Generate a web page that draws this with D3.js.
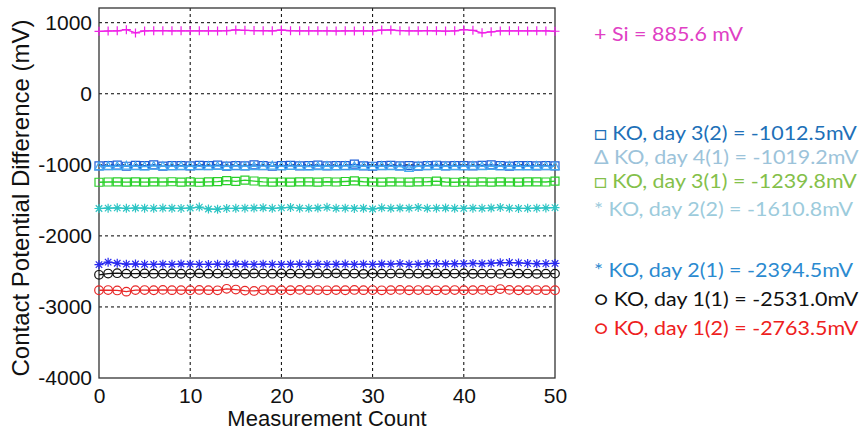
<!DOCTYPE html>
<html><head><meta charset="utf-8">
<script src="https://cdn.jsdelivr.net/npm/d3@7"></script>
<style>body{margin:0;background:#fff}svg{display:block}</style>
</head><body><svg id="c" width="866" height="430"></svg>
<script>
const counts = d3.range(0, 51);
const xTicks = [0, 10, 20, 30, 40, 50];
const yTicks = [1000, 0, -1000, -2000, -3000, -4000];

const si = [878,883,886,902,856,884,888,887,886,886,885,
 886,885,884,887,898,893,889,887,886,897,
 887,886,886,885,884,883,885,884,886,883,
 896,899,888,884,885,887,886,882,886,902,
 893,858,872,884,885,886,884,885,884,880];
const day3b = [-1015,-1010,-1005,-1020,-1008,-1012,-1000,-1018,-1010,-1012,-1015,
 -1008,-1012,-1005,-1018,-1010,-1014,-1002,-1010,-1020,-1012,
 -1008,-1015,-1012,-1004,-1016,-1010,-1012,-990,-1015,-1020,
 -1010,-1008,-1014,-1012,-1018,-1010,-1006,-1015,-1012,-1010,
 -1014,-1008,-1000,-1012,-1018,-1010,-1012,-1016,-1010,-1014];
const day4a = [-1025,-1018,-1022,-1015,-1020,-1024,-1016,-1020,-1022,-1018,-1020,
 -1023,-1017,-1019,-1021,-1016,-1020,-1022,-1018,-1015,-1021,
 -1019,-1017,-1024,-1020,-1018,-1022,-1016,-1020,-1019,-1023,
 -1018,-1021,-1025,-1045,-1020,-1017,-1019,-1022,-1018,-1020,
 -1016,-1021,-1019,-1023,-1018,-1020,-1022,-1017,-1019,-1021];
const day3a = [-1245,-1242,-1240,-1243,-1241,-1244,-1240,-1242,-1238,-1243,-1241,
 -1245,-1240,-1236,-1222,-1232,-1215,-1228,-1240,-1243,-1242,
 -1244,-1240,-1241,-1243,-1238,-1242,-1235,-1226,-1238,-1242,
 -1244,-1240,-1242,-1243,-1241,-1238,-1230,-1242,-1245,-1240,
 -1243,-1241,-1244,-1240,-1242,-1243,-1241,-1240,-1242,-1230];
const day2b = [-1615,-1610,-1605,-1612,-1608,-1610,-1612,-1609,-1611,-1613,-1608,
 -1595,-1622,-1625,-1614,-1612,-1610,-1608,-1604,-1612,-1606,
 -1600,-1610,-1612,-1608,-1598,-1612,-1610,-1614,-1611,-1622,
 -1605,-1612,-1608,-1610,-1600,-1612,-1610,-1608,-1612,-1614,
 -1610,-1612,-1608,-1600,-1610,-1614,-1612,-1610,-1606,-1602];
const day2a = [-2405,-2370,-2385,-2398,-2396,-2400,-2402,-2398,-2400,-2396,-2398,
 -2400,-2402,-2398,-2400,-2396,-2399,-2401,-2398,-2400,-2402,
 -2399,-2397,-2400,-2398,-2401,-2399,-2397,-2402,-2398,-2400,
 -2396,-2398,-2390,-2400,-2398,-2392,-2390,-2395,-2392,-2390,
 -2388,-2392,-2385,-2378,-2375,-2380,-2388,-2392,-2390,-2388];
const day1a = [-2548,-2530,-2525,-2532,-2530,-2528,-2532,-2531,-2529,-2533,-2530,
 -2527,-2532,-2530,-2528,-2531,-2533,-2529,-2530,-2532,-2528,
 -2531,-2530,-2533,-2529,-2531,-2527,-2532,-2530,-2534,-2529,
 -2531,-2530,-2528,-2532,-2530,-2533,-2529,-2531,-2530,-2528,
 -2533,-2531,-2530,-2535,-2529,-2531,-2530,-2534,-2532,-2531];
const day1b = [-2765,-2762,-2768,-2785,-2763,-2762,-2765,-2760,-2764,-2763,-2765,
 -2761,-2764,-2766,-2745,-2755,-2770,-2775,-2762,-2764,-2763,
 -2765,-2760,-2764,-2762,-2766,-2763,-2765,-2761,-2764,-2762,
 -2766,-2763,-2760,-2765,-2762,-2764,-2766,-2763,-2762,-2765,
 -2763,-2760,-2766,-2748,-2760,-2765,-2763,-2762,-2764,-2765];

const seriesNames = ["Si","KO, day 3(2)","KO, day 4(1)","KO, day 3(1)","KO, day 2(2)","KO, day 2(1)","KO, day 1(1)","KO, day 1(2)"];
const seriesMeans = ["885.6 mV","-1012.5mV","-1019.2mV","-1239.8mV","-1610.8mV","-2394.5mV","-2531.0mV","-2763.5mV"];
const seriesData = [si, day3b, day4a, day3a, day2b, day2a, day1a, day1b];
const markers = ["plus","square","triangle","square","star","star","circle","circle"];
const legendSymbols = ["+","□","Δ","□","*","*","○","○"];
const lineColors = ["#f020e8","#1f5fd8","#45a8f0","#2ad02a","#2cc4c4","#2828f0","#111111","#e82828"];
const textColors = ["#e040c4","#2070b8","#9cc3da","#84c04a","#9ccbdc","#2b8ad0","#111111","#ee2020"];
const legendY = [34, 133, 157, 181, 209, 270, 299, 328];

const svg = d3.select("#c");
svg.append("rect").attr("width",866).attr("height",430).attr("fill","#fff");
const L = 99, R = 555, T = 8, B = 378;
const x = d3.scaleLinear().domain([0,50]).range([L,R]);
const y = d3.scaleLinear().domain([-4000,1000]).range([B,22.7]);
const axisFont = "'Liberation Sans', Arial, sans-serif";

// grid
const g = svg.append("g");
g.selectAll(".gx").data(xTicks.filter(d=>d>0&&d<50)).join("line")
 .attr("x1",d=>x(d)).attr("x2",d=>x(d)).attr("y1",T).attr("y2",B)
 .attr("stroke","#000").attr("stroke-width",1).attr("stroke-dasharray","3,3");
g.selectAll(".gy").data(yTicks.filter(d=>d>-4000)).join("line")
 .attr("x1",L).attr("x2",R).attr("y1",d=>y(d)).attr("y2",d=>y(d))
 .attr("stroke","#000").attr("stroke-width",1).attr("stroke-dasharray","3,3");

// axes
const fmt = d => String(d);
const xa = svg.append("g").attr("transform",`translate(0,${B})`)
 .call(d3.axisBottom(x).tickValues(xTicks).tickFormat(fmt).tickSize(0).tickPadding(7));
const ya = svg.append("g").attr("transform",`translate(${L},0)`)
 .call(d3.axisLeft(y).tickValues(yTicks).tickFormat(fmt).tickSize(0).tickPadding(7));
[xa,ya].forEach(a=>{a.select(".domain").remove();
 a.selectAll("text").attr("font-family",axisFont).attr("font-size",21).attr("fill","#111");});
xa.selectAll("text").attr("dy","0.85em");

svg.append("rect").attr("x",L).attr("y",T).attr("width",R-L).attr("height",B-T)
 .attr("fill","none").attr("stroke","#333").attr("stroke-width",1.3);

// series
function markerPath(type){
  const s = 4.5;
  if(type==="plus") return `M${-s},0H${s}M0,${-s}V${s}`;
  if(type==="star"){ const d=s*0.72; return `M${-s},0H${s}M0,${-s}V${s}M${-d},${-d}L${d},${d}M${-d},${d}L${d},${-d}`; }
  if(type==="square") return `M-4,-4H4V4H-4Z`;
  if(type==="triangle") return `M0,-4.5L4.2,3.3H-4.2Z`;
  return null;
}
const line = d3.line().x((d,i)=>x(counts[i])).y(d=>y(d));
const order = [7,6,5,4,3,1,2,0];
order.forEach(k=>{
  const sg = svg.append("g");
  sg.append("path").datum(seriesData[k]).attr("d",line)
    .attr("fill","none").attr("stroke",lineColors[k]).attr("stroke-width",1.3);
  const pts = sg.selectAll("g.m").data(seriesData[k]).join("g")
    .attr("transform",(d,i)=>`translate(${x(counts[i])},${y(d)})`);
  if(markers[k]==="circle"){
    pts.append("circle").attr("r",4.3).attr("fill","none").attr("stroke",lineColors[k]).attr("stroke-width",1.2);
  } else {
    pts.append("path").attr("d",markerPath(markers[k])).attr("fill","none").attr("stroke",lineColors[k]).attr("stroke-width",1.2);
  }
});

// axis labels
svg.append("text").attr("x",(L+R)/2).attr("y",426).attr("text-anchor","middle")
 .attr("font-family",axisFont).attr("font-size",22).attr("fill","#111").text("Measurement Count");
svg.append("text").attr("transform",`translate(29,${(T+B)/2+5}) rotate(-90)`).attr("text-anchor","middle")
 .attr("font-family",axisFont).attr("font-size",24).attr("fill","#111").text("Contact Potential Difference (mV)");

// legend
const lg = svg.append("g");
seriesNames.forEach((n,k)=>{
  const t = lg.append("text").attr("x",594).attr("y",legendY[k]).attr("dy","0.35em")
    .attr("font-family","Lato, 'Noto Sans', sans-serif").attr("font-size",19.5)
    .attr("fill",textColors[k]).text(`${legendSymbols[k]} ${n} = ${seriesMeans[k]}`);
  const w = t.node().getComputedTextLength();
  t.attr("textLength", w*1.1).attr("lengthAdjust","spacingAndGlyphs");
});
</script></body></html>
